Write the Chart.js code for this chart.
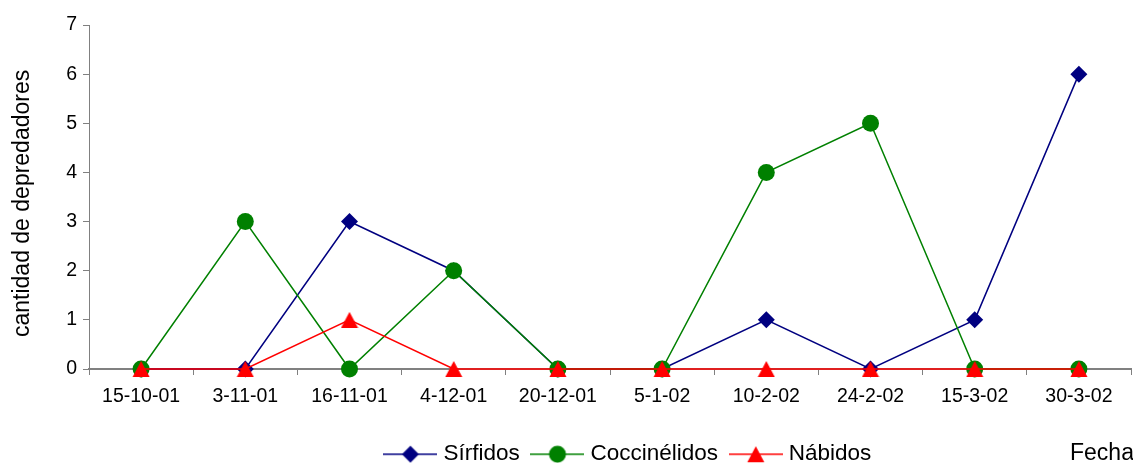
<!DOCTYPE html>
<html>
<head>
<meta charset="utf-8">
<script src="https://cdn.jsdelivr.net/npm/chart.js@4.4.0/dist/chart.umd.min.js"></script>
<style>
  html, body { margin: 0; padding: 0; background: #fff; overflow: hidden; }
  #wrap { position: relative; width: 1140px; height: 463px; }
  #fecha { position: absolute; left: 1070px; top: 439px; font: 23px/26px "Liberation Sans", Arial, sans-serif; color: #000; }
</style>
</head>
<body>
<div id="wrap">
  <canvas id="chart" width="1140" height="463"></canvas>
  <div id="fecha">Fecha</div>
</div>
<script>
const fechas       = ['15-10-01', '3-11-01', '16-11-01', '4-12-01', '20-12-01', '5-1-02', '10-2-02', '24-2-02', '15-3-02', '30-3-02'];
const sirfidos     = [0, 0, 3, 2, 0, 0, 1, 0, 1, 6];
const coccinelidos = [0, 3, 0, 2, 0, 0, 4, 5, 0, 0];
const nabidos      = [0, 0, 1, 0, 0, 0, 0, 0, 0, 0];
const yMin = 0, yMax = 7, yStep = 1;

const FONT = '"Liberation Sans", Arial, sans-serif';
const AXIS = '#808080';
const LEGEND_SHIFT = 60;

// Excel-like triangle: centred on its bounding box, not on its centroid
function triangleMarker(color) {
  const c = document.createElement('canvas');
  c.width = 18; c.height = 16;
  const ctx = c.getContext('2d');
  ctx.fillStyle = color;
  ctx.beginPath();
  ctx.moveTo(9, 0); ctx.lineTo(17.5, 16); ctx.lineTo(0.5, 16);
  ctx.closePath(); ctx.fill();
  return c;
}

// legend icon: short line with the marker in the middle
function legendIcon(color, style, r) {
  const c = document.createElement('canvas');
  c.width = 54; c.height = 24;
  const ctx = c.getContext('2d');
  const cx = c.width / 2, cy = c.height / 2;
  ctx.strokeStyle = color; ctx.lineWidth = 1.5;
  ctx.beginPath(); ctx.moveTo(0, cy); ctx.lineTo(c.width, cy); ctx.stroke();
  ctx.fillStyle = color;
  if (style === 'rectRot') {
    ctx.beginPath();
    ctx.moveTo(cx, cy - r); ctx.lineTo(cx + r, cy); ctx.lineTo(cx, cy + r); ctx.lineTo(cx - r, cy);
    ctx.closePath(); ctx.fill();
  } else if (style === 'circle') {
    ctx.beginPath(); ctx.arc(cx, cy, r, 0, Math.PI * 2); ctx.fill();
  } else {
    ctx.drawImage(style, cx - style.width / 2, cy - style.height / 2);
  }
  return c;
}

const series = [
  { label: 'Sírfidos',     data: sirfidos,     color: '#000080', style: 'rectRot',                  r: 8.5, order: 3 },
  { label: 'Coccinélidos', data: coccinelidos, color: '#008000', style: 'circle',                   r: 8.5, order: 2 },
  { label: 'Nábidos',      data: nabidos,      color: '#FF0000', style: triangleMarker('#FF0000'), r: 9,   order: 1 }
];

// move the legend a little to the right, like the original
const legendShift = {
  id: 'legendShift',
  afterLayout(chart) {
    if (chart.legend) { chart.legend.left += LEGEND_SHIFT; chart.legend.right += LEGEND_SHIFT; }
  }
};

new Chart(document.getElementById('chart'), {
  type: 'line',
  data: {
    labels: fechas,
    datasets: series.map(s => ({
      label: s.label, data: s.data, order: s.order, clip: false,
      borderColor: s.color, backgroundColor: s.color,
      borderWidth: 1.5, tension: 0,
      pointStyle: s.style, pointRadius: s.r, pointHoverRadius: s.r,
      pointBackgroundColor: s.color, pointBorderColor: s.color, pointBorderWidth: 0
    }))
  },
  plugins: [legendShift],
  options: {
    responsive: false, animation: false,
    layout: { padding: { top: 25, right: 0, bottom: -12.5, left: 0 } },
    plugins: {
      tooltip: { enabled: false },
      legend: {
        position: 'bottom',
        labels: {
          usePointStyle: true, pointStyleWidth: 43.5, padding: 16,
          color: '#000', font: { family: FONT, size: 22.5 },
          generateLabels: chart => series.map((s, i) => ({
            text: s.label, datasetIndex: i, hidden: false,
            pointStyle: legendIcon(s.color, s.style, s.r),
            fillStyle: s.color, strokeStyle: s.color, fontColor: '#000', lineWidth: 0
          }))
        }
      }
    },
    scales: {
      x: {
        offset: true,
        grid: { offset: true, drawOnChartArea: false, color: AXIS, tickLength: 6, tickWidth: 1 },
        border: { color: AXIS, width: 2 },
        ticks: { color: '#000', font: { family: FONT, size: 19.5 }, padding: 10, maxRotation: 0, autoSkip: false },
        afterFit: scale => { scale.height = 58; }
      },
      y: {
        min: yMin, max: yMax,
        grid: { drawOnChartArea: false, color: AXIS, tickLength: 6, tickWidth: 1 },
        border: { color: AXIS, width: 1 },
        ticks: { stepSize: yStep, color: '#000', font: { family: FONT, size: 19.5 }, padding: 6 },
        title: { display: true, text: 'cantidad de depredadores  ', color: '#000', font: { family: FONT, size: 23 }, padding: { top: 9, bottom: 0 } },
        afterFit: scale => { scale.width = 89; }
      }
    }
  }
});
</script>
</body>
</html>
